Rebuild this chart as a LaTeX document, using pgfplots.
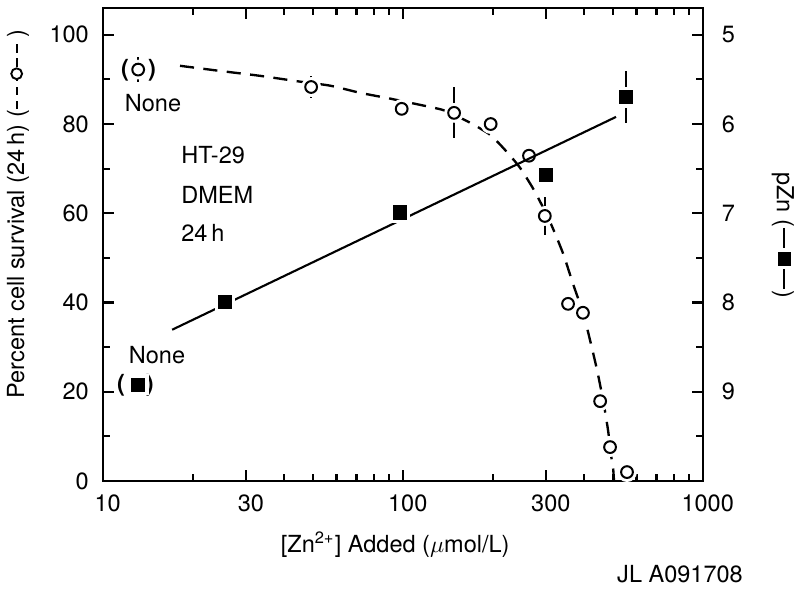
\documentclass[border=0pt]{standalone}
\usepackage{fontspec}
\setmainfont{TeX Gyre Heros}
\usepackage{pgfplots}
\usepackage{pgfplotstable}
\pgfplotsset{compat=1.18}

% survival (left axis), x in umol/L, y in percent, e = error
\pgfplotstableread{
x y e
13.1 92.2 2.8
49.4 88.3 2.5
99 83.4 0
148 82.5 5.7
196 80.0 2.2
263 72.9 0
297 59.4 4.3
355 39.7 0
398 37.7 1.2
454 17.9 0.8
490 7.6 0.8
558 2.0 0
}\surv

% dashed fit curve through survival points
\pgfplotstableread{
x y
18.06 93.05
24.55 91.9
33.38 90.8
45.37 89.5
57.11 88.6
71.89 87.0
90.5 85.7
113.9 84.3
138.0 83.0
167.2 80.3
195.0 77.6
218.8 74.2
245.5 70.2
275.4 64.8
309.0 58.1
341.6 51.0
368.7 44.2
398.1 37.7
420.1 31.6
443.3 24.9
464.2 18.2
482.4 11.4
493.6 5.8
501.2 3.1
505.1 0
}\survfit

% pZn (right axis)
\pgfplotstableread{
x y e
13.1 8.92 0
25.5 7.99 0
97.7 6.99 0
300 6.57 0
554 5.70 0.29
}\pzn

\newsavebox\circleg
\newsavebox\squareleg
\sbox\circleg{\tikz[baseline=-0.6ex]{\draw[line width=0.9pt, dash pattern=on 3.5pt off 2.5pt] (0,0)--(30pt,0);
  \draw[line width=0.8pt, fill=white] (15pt,0) circle (2.3pt);}}
\sbox\squareleg{\tikz[baseline=-0.6ex]{\draw[line width=0.9pt] (0,0)--(26pt,0);
  \fill[white] (8.5pt,-3.5pt) rectangle (17.5pt,3.5pt);
  \fill (10pt,-2.7pt) rectangle (16pt,2.7pt);}}

\begin{document}
\begin{tikzpicture}
\useasboundingbox (-43.775pt,-45.475pt) rectangle (296.225pt,204.425pt);
\begin{axis}[
  scale only axis,
  width=255pt, height=201.025pt,
  xmode=log, xmin=10, xmax=1000,
  ymin=0, ymax=106,
  xtick={10,30,100,300,1000},
  xticklabels={10,30,100,300,1000},
  minor xtick={20,40,50,60,70,80,90,200,400,500,600,700,800,900},
  ytick={0,20,40,60,80,100},
  minor ytick={10,30,50,70,90},
  ytick pos=left,
  tick align=inside,
  major tick length=4.5pt, minor tick length=3pt,
  axis line style={line width=0.9pt},
  every tick/.style={line width=0.9pt, black},
  /pgf/number format/assume math mode=true,
  xticklabel style={yshift=-2.5pt, xshift=2pt},
  yticklabel style={xshift=-2.5pt},
  clip=false,
]
\addplot[line width=1pt, dash pattern=on 6pt off 4pt, smooth, tension=0.4] table[x=x,y=y] {\survfit};
\addplot[only marks, mark=*, mark size=4pt, white, forget plot] table[x=x,y=y] {\surv};
\addplot[only marks, mark=*, mark size=2.5pt,
  mark options={fill=white, draw=black, line width=0.85pt},
  error bars/.cd, y dir=both, y explicit, error mark=none,
  error bar style={line width=0.7pt, black}]
  table[x=x,y=y,y error=e] {\surv};

\node[anchor=west] at (axis description cs:0.1167,0.689) {HT-29};
\node[anchor=west] at (axis description cs:0.1167,0.605) {DMEM};
\node[anchor=west] at (axis description cs:0.1167,0.524) {24\,h};
\node at (axis description cs:0.0833,0.799) {None};
\node at (axis description cs:0.09,0.266) {None};
\node at (axis description cs:0.0367,0.869) {\bfseries (};
\node at (axis description cs:0.0817,0.869) {\bfseries )};
\node at (axis description cs:0.030,0.203) {\bfseries (};
\node at (axis description cs:0.078,0.203) {\bfseries )};

\node[rotate=90] at (axis description cs:-0.1417,0.5645)
  {Percent cell survival (24\,h) (\usebox\circleg)};
\node[rotate=-90] at (axis description cs:1.133,0.52)
  {pZn (\usebox\squareleg)};
\node at (axis description cs:0.487,-0.135)
  {[Zn\textsuperscript{2+}] Added ($\mu$mol/L)};
\node at (axis description cs:0.9617,-0.1966) {JL A091708};
\end{axis}

\begin{axis}[
  scale only axis,
  width=255pt, height=201.025pt,
  xmode=log, xmin=10, xmax=1000,
  hide x axis,
  axis y line*=right,
  y dir=reverse,
  ymin=4.7, ymax=10,
  ytick={5,6,7,8,9},
  minor ytick={5.5,6.5,7.5,8.5,9.5},
  tick align=inside,
  major tick length=4.5pt, minor tick length=3pt,
  axis line style={line width=0.9pt},
  every tick/.style={line width=0.9pt, black},
  /pgf/number format/assume math mode=true,
  yticklabel style={xshift=4.5pt},
  clip=false,
]
\addplot[line width=0.9pt] coordinates {(17,8.305) (513,5.92)};
\addplot[only marks, mark=square*, mark size=4.2pt, white, forget plot] table[x=x,y=y] {\pzn};
\addplot[only marks, mark=square*, mark size=2.8pt, black,
  error bars/.cd, y dir=both, y explicit, error mark=none,
  error bar style={line width=0.7pt, black}]
  table[x=x,y=y,y error=e] {\pzn};
\end{axis}
\end{tikzpicture}
\end{document}
